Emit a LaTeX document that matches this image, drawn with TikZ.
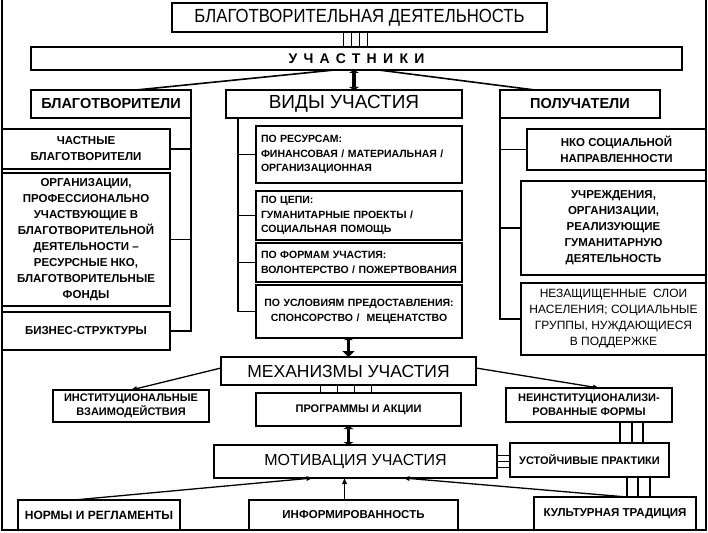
\documentclass[tikz,border=0pt]{standalone}
\usepackage{fontspec}
\setmainfont{Liberation Sans}
\newfontfamily\narrowfont[FakeStretch=0.88]{Liberation Sans}
\newfontfamily\spacedfont[LetterSpace=45]{Liberation Sans}
\usetikzlibrary{arrows.meta}
\tikzset{
  box/.style      = {rectangle, draw, line width=1.8pt, fill=white,
                     anchor=north west, outer sep=0pt, inner sep=2pt,
                     align=center},
  headbox/.style  = {box, font=\fontsize{17.5}{20}\selectfont},
  groupbox/.style = {box, font=\bfseries\fontsize{14.5}{17}\selectfont},
  itembox/.style  = {box, font=\bfseries\fontsize{11.5}{16}\selectfont},
  typebox/.style  = {box, text width=196pt, align=left, inner xsep=5pt,
                     font=\bfseries\fontsize{10.5}{14.5}\selectfont},
  link/.style     = {line width=1.6pt},
  rail/.style     = {line width=1.8pt},
  arrow/.style    = {line width=1.3pt, -{Triangle[length=6pt, width=4.5pt]}},
  beam/.style     = {line width=3.5pt,
                     {Triangle[length=3pt, width=10pt]}-{Triangle[length=3pt, width=10pt]}},
  frame/.style    = {line width=1.4pt}
}

\begin{document}
\begin{tikzpicture}[x=1pt, y=-1pt]
  \useasboundingbox (0,0) rectangle (708,532);
  \draw[frame] (2,0) -- (2,530) -- (706,530) -- (706,0);

  % upper levels
  \node[headbox, minimum width=375pt, minimum height=29pt,
        font=\narrowfont\fontsize{19}{22}\selectfont] (top) at (172,3) {БЛАГОТВОРИТЕЛЬНАЯ ДЕЯТЕЛЬНОСТЬ};
  \node[groupbox, minimum width=651pt, minimum height=23pt,
        font=\spacedfont\bfseries\fontsize{14}{16}\selectfont] (uch) at (31,47) {УЧАСТНИКИ};
  \node[groupbox, minimum width=160pt, minimum height=28pt] (donor) at (31,90) {БЛАГОТВОРИТЕЛИ};
  \node[headbox,  minimum width=236pt, minimum height=28pt,
        font=\fontsize{19}{22}\selectfont] (kinds) at (226,90) {ВИДЫ УЧАСТИЯ};
  \node[groupbox, minimum width=160pt, minimum height=28pt] (recip) at (500,90) {ПОЛУЧАТЕЛИ};

  % donors
  \node[itembox, minimum width=168pt, minimum height=40pt]  (priv) at (2,129) {ЧАСТНЫЕ\\БЛАГОТВОРИТЕЛИ};
  \node[itembox, minimum width=168pt, minimum height=133pt] (orgs) at (2,173)
    {ОРГАНИЗАЦИИ,\\ПРОФЕССИОНАЛЬНО\\УЧАСТВУЮЩИЕ В\\БЛАГОТВОРИТЕЛЬНОЙ\\ДЕЯТЕЛЬНОСТИ –\\РЕСУРСНЫЕ НКО,\\БЛАГОТВОРИТЕЛЬНЫЕ\\ФОНДЫ};
  \node[itembox, minimum width=168pt, minimum height=38pt]  (biz) at (2,312) {БИЗНЕС-СТРУКТУРЫ};

  % kinds of participation
  \node[typebox, minimum height=57pt] (res)  at (256,126) {ПО РЕСУРСАМ:\\ФИНАНСОВАЯ / МАТЕРИАЛЬНАЯ /\\ОРГАНИЗАЦИОННАЯ};
  \node[typebox, minimum height=49pt] (goal) at (256,191) {ПО ЦЕПИ:\\ГУМАНИТАРНЫЕ ПРОЕКТЫ /\\СОЦИАЛЬНАЯ ПОМОЩЬ};
  \node[typebox, minimum height=39pt] (form) at (256,243) {ПО ФОРМАМ УЧАСТИЯ:\\ВОЛОНТЕРСТВО / ПОЖЕРТВОВАНИЯ};
  \node[typebox, minimum height=53pt, align=center] (cond) at (256,285) {ПО УСЛОВИЯМ ПРЕДОСТАВЛЕНИЯ:\\СПОНСОРСТВО /\ \ МЕЦЕНАТСТВО};

  % recipients
  \node[itembox, minimum width=179pt, minimum height=41pt] (nko)  at (527,129) {НКО СОЦИАЛЬНОЙ\\НАПРАВЛЕННОСТИ};
  \node[itembox, minimum width=185pt, minimum height=94pt] (inst) at (521,181)
    {УЧРЕЖДЕНИЯ,\\ОРГАНИЗАЦИИ,\\РЕАЛИЗУЮЩИЕ\\ГУМАНИТАРНУЮ\\ДЕЯТЕЛЬНОСТЬ};
  \node[itembox, minimum width=185pt, minimum height=72pt,
        font=\fontsize{12}{16}\selectfont] (vuln) at (521,283)
    {НЕЗАЩИЩЕННЫЕ\ \ СЛОИ\\НАСЕЛЕНИЯ; СОЦИАЛЬНЫЕ\\ГРУППЫ, НУЖДАЮЩИЕСЯ\\В ПОДДЕРЖКЕ};

  % mechanisms
  \node[headbox, minimum width=255pt, minimum height=28pt] (mech) at (221,357) {МЕХАНИЗМЫ УЧАСТИЯ};
  \node[itembox, minimum width=156pt, minimum height=32pt, font=\bfseries\fontsize{11}{14}\selectfont]
    (instit) at (53,390) {ИНСТИТУЦИОНАЛЬНЫЕ\\ВЗАИМОДЕЙСТВИЯ};
  \node[itembox, minimum width=205pt, minimum height=33pt, font=\bfseries\fontsize{11}{14}\selectfont]
    (prog) at (256,393) {ПРОГРАММЫ И АКЦИИ};
  \node[itembox, minimum width=166pt, minimum height=34pt, font=\bfseries\fontsize{11}{14}\selectfont]
    (noninst) at (506,388) {НЕИНСТИТУЦИОНАЛИЗИ-\\РОВАННЫЕ ФОРМЫ};

  % motivation
  \node[headbox, minimum width=283pt, minimum height=33pt, font=\fontsize{16}{19}\selectfont]
    (motiv) at (214,445) {МОТИВАЦИЯ УЧАСТИЯ};
  \node[itembox, minimum width=159pt, minimum height=34pt, font=\bfseries\fontsize{11}{14}\selectfont]
    (prac) at (510,443) {УСТОЙЧИВЫЕ ПРАКТИКИ};
  \node[itembox, minimum width=162pt, minimum height=30pt, font=\bfseries\fontsize{12}{16}\selectfont]
    (norms) at (18,500) {НОРМЫ И РЕГЛАМЕНТЫ};
  \node[itembox, minimum width=209pt, minimum height=30pt] (info)  at (249,500) {ИНФОРМИРОВАННОСТЬ};
  \node[itembox, minimum width=162pt, minimum height=33pt] (cult)  at (534,497) {КУЛЬТУРНАЯ ТРАДИЦИЯ};

  % links between levels
  \foreach \dx in {-16,-8,0,8} {
    \coordinate (r) at ([xshift=\dx pt]top.south);
    \draw[rail] (r) -- (r |- uch.north);
  }
  \draw[link] ([xshift=-22pt]uch.south) -- ([xshift=25pt]donor.north);
  \draw[link] ([xshift=22pt]uch.south) -- ([xshift=-45pt]recip.north);
  \coordinate (b1) at ([xshift=10pt]kinds.north);
  \draw[beam] (b1 |- uch.south) -- (b1);

  % donors column
  \draw[link] (donor.south east) -- (donor.south east |- biz.east) -- (biz.east);
  \foreach \n in {priv,orgs}
    \draw[link] (donor.south east |- \n.east) -- (\n.east);

  % kinds column
  \coordinate (kt) at ([xshift=12pt]kinds.south west);
  \draw[link] (kt) -- (kt |- cond.west);
  \foreach \n in {res,goal,form,cond}
    \draw[link] (kt |- \n.west) -- (\n.west);

  % recipients column
  \draw[link] (recip.south west) -- (recip.south west |- vuln.west) -- (vuln.west);
  \foreach \n in {nko,inst}
    \draw[link] (recip.south west |- \n.west) -- (\n.west);

  % mechanisms
  \draw[beam, {Triangle[length=2pt, width=9pt]}-{Triangle[length=6pt, width=12pt]}]
    (mech.north |- cond.south) -- (mech.north);
  \draw[arrow] ([yshift=3pt]mech.west) -- (instit.north);
  \draw[arrow] ([yshift=3pt]mech.east) -- ([xshift=10pt]noninst.north);
  \foreach \dx in {-28,-11,6,23} {
    \coordinate (r) at ([xshift=\dx pt]mech.south);
    \draw[rail] (r) -- (r |- prog.north);
  }
  \draw[beam] (mech.north |- prog.south) -- (mech.north |- motiv.north);

  % motivation
  \foreach \dx in {-49,-37,-26} {
    \coordinate (r) at ([xshift=\dx pt]prac.north east);
    \draw[rail] (r |- noninst.south) -- (r);
  }
  \foreach \dy in {-6,0,6} {
    \coordinate (r) at ([yshift=\dy pt]motiv.east);
    \draw[rail] (r) -- (r -| prac.west);
  }
  \foreach \dx in {-42,-31,-19} {
    \coordinate (r) at ([xshift=\dx pt]prac.south east);
    \draw[rail] (r) -- (r |- cult.north);
  }
  \draw[arrow] ([xshift=-25pt]norms.north) -- ([xshift=-43pt]motiv.south);
  \coordinate (ia) at ([xshift=-9pt]info.north);
  \draw[arrow] (ia) -- (ia |- motiv.south);
  \draw[arrow] ([xshift=12pt]cult.north) -- ([xshift=48pt]motiv.south);
\end{tikzpicture}
\end{document}
